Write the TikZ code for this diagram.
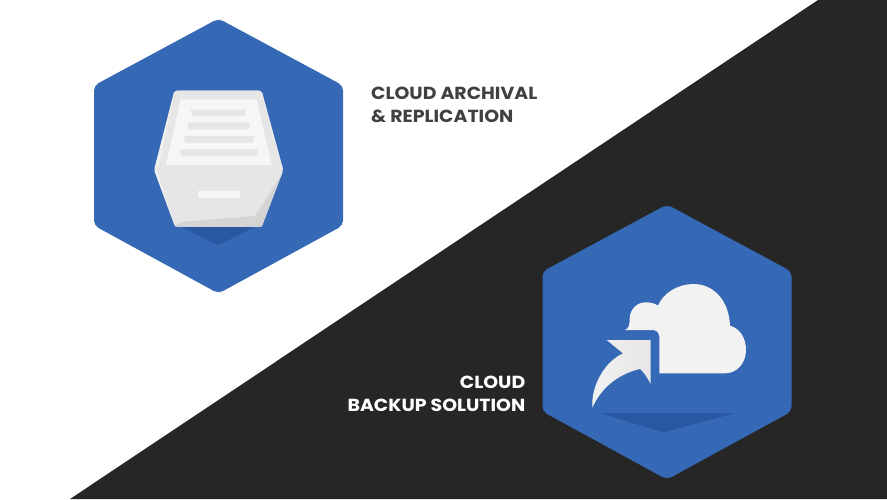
\documentclass[tikz,border=0pt]{standalone}
\usepackage{fontspec}
\setmainfont[FakeStretch=1.08]{Poppins}
\definecolor{hexblue}{HTML}{3568B5}
\definecolor{hexshade}{HTML}{2A57A1}
\definecolor{darkbg}{HTML}{262626}
\definecolor{boxface}{HTML}{E6E6E6}
\definecolor{boxshade}{HTML}{D4D4D4}
\definecolor{boxedge}{HTML}{F0F0F0}
\definecolor{paper}{HTML}{F6F6F6}
\definecolor{cloudfill}{HTML}{F2F2F2}
\definecolor{labeldark}{HTML}{404040}
\tikzset{
  hexagon/.style={fill=hexblue,rounded corners=5pt},
  caption/.style={font=\bfseries\fontsize{17.5}{22.8}\selectfont,inner sep=0pt},
  paperline/.style={fill=boxface}
}
\begin{document}
\begin{tikzpicture}[x=1pt,y=-1pt]
\useasboundingbox (0,0) rectangle (887,499);
\fill[white] (0,0) rectangle (887,499);
\fill[darkbg] (818,0) -- (887,0) -- (887,499) -- (70,499) -- cycle;
% left hexagon
\fill[hexagon] (218.5,18.5) -- (343,85.5) -- (343,225.5) -- (218.5,293.5) -- (94,225.5) -- (94,85.5) -- cycle;
\begin{scope}[shift={(80,10)},scale=1/3]
  \fill[hexshade] (300,648) -- (415,706) -- (530,648) -- cycle;
  \fill[boxedge,rounded corners=2pt] (283,242) -- (545,242) -- (610,480) -- (545,650) -- (285,650) -- (222,480) -- cycle;
  \fill[boxface,rounded corners=2pt] (288,242) -- (542,242) -- (605,470) -- (575,480) -- (258,480) -- (234,480) -- (283,250) -- cycle;
  \fill[boxface,rounded corners=2pt] (228,470) -- (604,470) -- (608,480) -- (545,650) -- (285,650) -- cycle;
  \fill[boxshade] (604,495) -- (545,650) -- (285,650) -- (300,636) -- (525,618) -- cycle;
  \fill[paper] (302,268) -- (530,268) -- (575,465) -- (258,465) -- cycle;
  \fill[paperline] (332,299) -- (498,299) -- (494,318) -- (337,318) -- cycle;
  \fill[paperline] (321,338) -- (510,338) -- (506,358) -- (327,358) -- cycle;
  \fill[paperline] (310,378) -- (523,378) -- (518,398) -- (316,398) -- cycle;
  \fill[paperline] (298,418) -- (535,418) -- (528,438) -- (305,438) -- cycle;
  \fill[paper] (355,543) rectangle (480,565);
\end{scope}
% right hexagon
\fill[hexagon] (667,204.5) -- (791.5,271.5) -- (791.5,411.5) -- (667,479.5) -- (542.5,411.5) -- (542.5,271.5) -- cycle;
\begin{scope}[shift={(530,195)},scale=1/3]
  \fill[hexshade] (212,655) -- (612,655) -- (400,712) -- cycle;
  \fill[cloudfill] (388,535) -- (388,425) .. controls (386,412) and (380,406) .. (372,405)
    -- (285,405) .. controls (296,400) and (299,392) .. (299,368)
    .. controls (302,340) and (322,322) .. (347,322)
    .. controls (362,322) and (375,325) .. (384,332)
    .. controls (400,293) and (445,267) .. (490,267)
    .. controls (550,267) and (597,315) .. (600,392)
    .. controls (630,400) and (648,430) .. (648,465)
    .. controls (648,505) and (620,535) .. (585,535) -- cycle;
  \shade[left color=cloudfill,right color=boxface] (230,435) -- (362,435) -- (362,567)
    .. controls (352,548) and (342,532) .. (330,522)
    .. controls (270,535) and (215,575) .. (187,638)
    .. controls (183,570) and (225,500) .. (279,475) -- cycle;
\end{scope}
% labels
\node[caption,text=labeldark,anchor=west,align=left] (archival) at (371,105) {CLOUD ARCHIVAL\\\& REPLICATION};
\node[caption,text=white,anchor=east,align=right] (backup) at (525.5,394) {CLOUD\\BACKUP SOLUTION};
\end{tikzpicture}
\end{document}
